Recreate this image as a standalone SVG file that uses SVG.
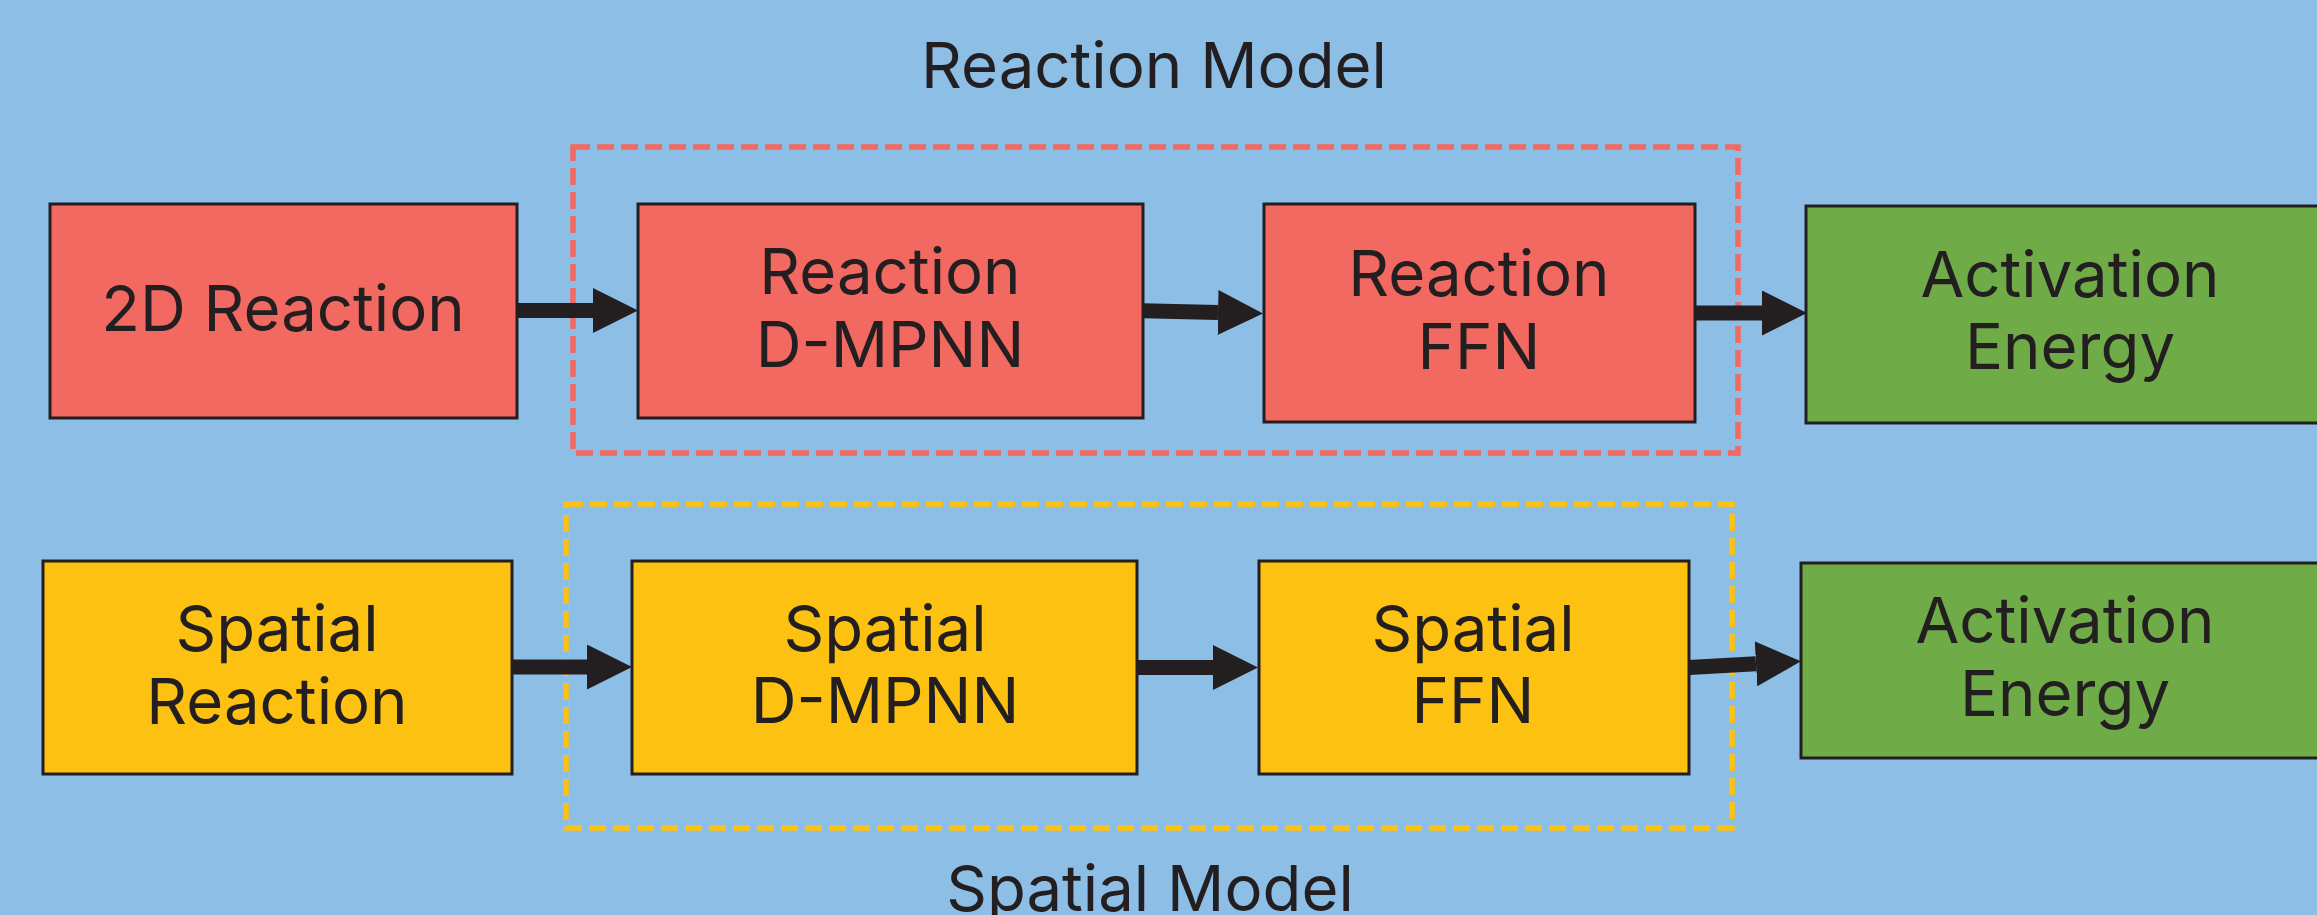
<svg xmlns="http://www.w3.org/2000/svg" width="2317" height="915" viewBox="0 0 2317 915">
<style>
.bg{fill:#8DBFE6}
.box{stroke:#231F20;stroke-width:3}
.red{fill:#F16960}
.yel{fill:#FCC111}
.grn{fill:#6FAC48}
.t{font-family:Inter,"Liberation Sans",sans-serif;font-size:63.5px;fill:#231F20;text-anchor:middle}
.grp{fill:none;stroke-width:5.5;stroke-dasharray:17 7}
.conn{stroke:#231F20;stroke-width:15;fill:none;marker-end:url(#ah)}
</style>
<defs>
<marker id="ah" viewBox="0 0 3 3" markerWidth="3" markerHeight="3" refX="0" refY="1.5" orient="auto" markerUnits="strokeWidth">
<path d="M0,0 L3,1.5 L0,3 Z" fill="#231F20"/>
</marker>
</defs>
<rect class="bg" x="0" y="0" width="2317" height="915"/>
<g id="reaction-model-group">
<rect class="grp" x="573" y="147" width="1165" height="306" stroke="#F16960"/>
<text class="t" x="1154" y="88">Reaction Model</text>
</g>
<g id="spatial-model-group">
<rect class="grp" x="566" y="504" width="1166" height="324" stroke="#FCC111"/>
<text class="t" x="1150" y="911">Spatial Model</text>
</g>
<g id="connectors">
<path class="conn" d="M517,310.5 L593,310.5"/>
<path class="conn" d="M1143,310.8 L1218,312.5"/>
<path class="conn" d="M1695,313 L1762,313"/>
<path class="conn" d="M511,667 L587,667"/>
<path class="conn" d="M1137,667.5 L1213,667.5"/>
<path class="conn" d="M1689,667.5 L1756,663.8"/>
</g>
<g id="n-2d-reaction">
<rect class="box red" x="50" y="204" width="467" height="214"/>
<text class="t" x="283" y="331">2D Reaction</text>
</g>
<g id="n-reaction-dmpnn">
<rect class="box red" x="638" y="204" width="505" height="214"/>
<text class="t" x="890" y="294">Reaction</text>
<text class="t" x="890" y="367">D-MPNN</text>
</g>
<g id="n-reaction-ffn">
<rect class="box red" x="1264" y="204" width="431" height="218"/>
<text class="t" x="1479" y="296">Reaction</text>
<text class="t" x="1479" y="369">FFN</text>
</g>
<g id="n-activation-1">
<rect class="box grn" x="1806" y="206" width="530" height="217"/>
<text class="t" x="2070" y="297">Activation</text>
<text class="t" x="2070" y="369">Energy</text>
</g>
<g id="n-spatial-reaction">
<rect class="box yel" x="43" y="561" width="469" height="213"/>
<text class="t" x="277" y="651">Spatial</text>
<text class="t" x="277" y="724">Reaction</text>
</g>
<g id="n-spatial-dmpnn">
<rect class="box yel" x="632" y="561" width="505" height="213"/>
<text class="t" x="885" y="651">Spatial</text>
<text class="t" x="885" y="723">D-MPNN</text>
</g>
<g id="n-spatial-ffn">
<rect class="box yel" x="1259" y="561" width="430" height="213"/>
<text class="t" x="1473" y="651">Spatial</text>
<text class="t" x="1473" y="723">FFN</text>
</g>
<g id="n-activation-2">
<rect class="box grn" x="1801" y="563" width="530" height="195"/>
<text class="t" x="2065" y="643">Activation</text>
<text class="t" x="2065" y="716">Energy</text>
</g>
</svg>
